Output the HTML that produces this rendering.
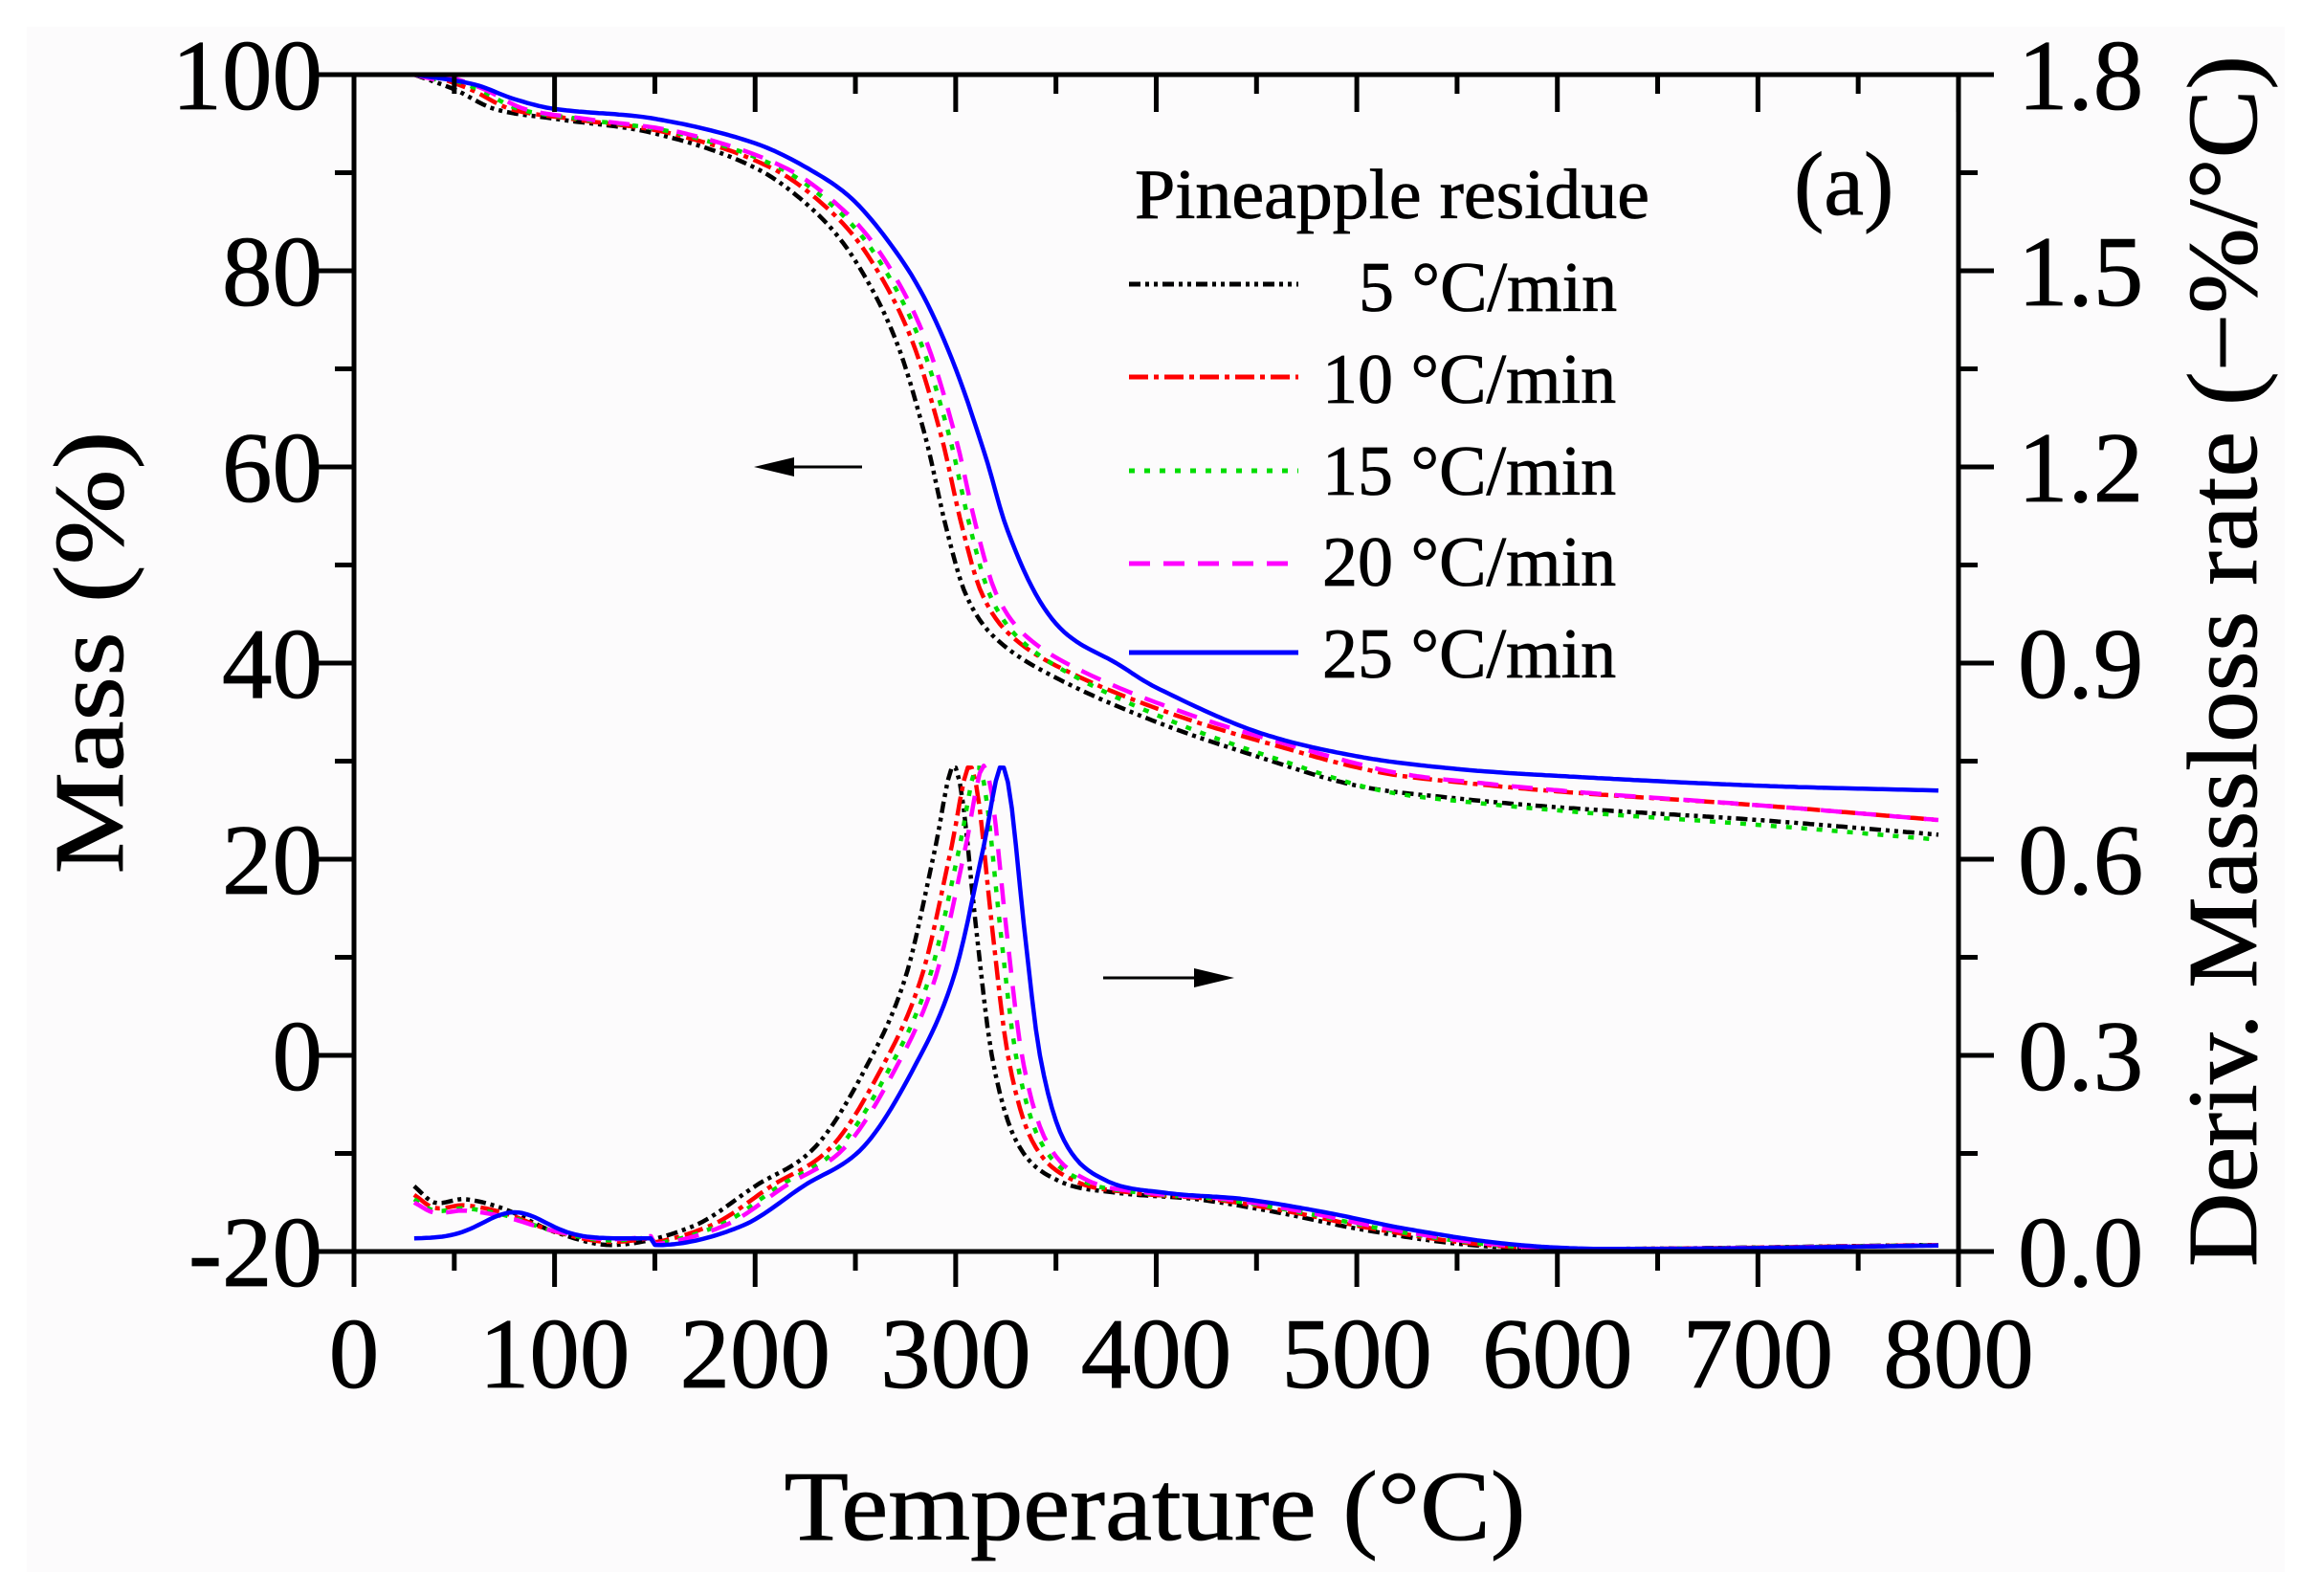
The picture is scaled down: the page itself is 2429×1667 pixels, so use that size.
<!DOCTYPE html>
<html><head><meta charset="utf-8"><style>
html,body{margin:0;padding:0;background:#fff;}
svg{display:block;}
text{font-family:"Liberation Serif",serif;fill:#000;stroke:#000;stroke-width:0.8;}
</style></head><body>
<svg id="s" width="2429" height="1667" viewBox="0 0 2429 1667" xmlns="http://www.w3.org/2000/svg">
<rect x="28" y="28" width="2360" height="1615" fill="#fcfbfc"/>
<g id="curves" fill="none" stroke-width="4.5" stroke-linejoin="round"></g>
<g stroke="#000" stroke-width="5" fill="none">
<rect x="370" y="78" width="1677" height="1230"/>
</g>
<g id="ticks" stroke="#000" stroke-width="5"></g>
<g id="labels" font-size="105"></g>
<text x="1207" y="1609" font-size="104" text-anchor="middle" textLength="775" lengthAdjust="spacingAndGlyphs">Temperature  (°C)</text>
<text transform="translate(128,682) rotate(-90)" font-size="104" text-anchor="middle" textLength="463" lengthAdjust="spacingAndGlyphs">Mass  (%)</text>
<text transform="translate(2358,691) rotate(-90)" font-size="104" text-anchor="middle" textLength="1266" lengthAdjust="spacingAndGlyphs">Deriv. Massloss rate  (−%/°C)</text>
<text x="1875" y="224" font-size="94">(a)</text>
<text x="1186" y="228" font-size="74" textLength="538" lengthAdjust="spacingAndGlyphs">Pineapple residue</text>
<g font-size="74">
<text x="1420" y="325">5 °C/min</text>
<text x="1382" y="421">10 °C/min</text>
<text x="1382" y="517">15 °C/min</text>
<text x="1382" y="612">20 °C/min</text>
<text x="1382" y="708">25 °C/min</text>
</g>
<g fill="none" stroke-width="5">
<line x1="1180" y1="297" x2="1357" y2="297" stroke="#000" stroke-dasharray="12,5,4,5,4,5"/>
<line x1="1180" y1="394" x2="1357" y2="394" stroke="#f00" stroke-dasharray="20,6,5,6"/>
<line x1="1180" y1="492" x2="1357" y2="492" stroke="#0d0" stroke-dasharray="6,10"/>
<line x1="1180" y1="589" x2="1357" y2="589" stroke="#f0f" stroke-dasharray="22,14"/>
<line x1="1180" y1="682" x2="1357" y2="682" stroke="#00f"/>
</g>
<g stroke="#000" stroke-width="3" fill="#000">
<line x1="901" y1="488" x2="810" y2="488"/>
<polygon points="788,488 830,478 830,498" stroke="none"/>
<line x1="1153" y1="1022" x2="1265" y2="1022"/>
<polygon points="1290,1022 1248,1012 1248,1032" stroke="none"/>
</g>
</svg>
<script>
(function(){
var NS="http://www.w3.org/2000/svg";
function X(t){return 370+t*2.09625;}
function YM(m){return 78+(100-m)*10.25;}
function YD(d){return 1308-d*683.33;}
function interp(a,t){
 if(t<=a[0][0])return a[0][1];
 for(var i=1;i<a.length;i++){if(t<=a[i][0]){var p=a[i-1],q=a[i];var u=(t-p[0])/(q[0]-p[0]);
   var pp=a[Math.max(0,i-2)],qq=a[Math.min(a.length-1,i+1)];
   var m0=(q[1]-pp[1])/(q[0]-pp[0])*(q[0]-p[0]),m1=(qq[1]-p[1])/(qq[0]-p[0])*(q[0]-p[0]);
   var u2=u*u,u3=u2*u;
   return (2*u3-3*u2+1)*p[1]+(u3-2*u2+u)*m0+(-2*u3+3*u2)*q[1]+(u3-u2)*m1;}}
 return a[a.length-1][1];
}
var mb=[[30,100],[50,98.5],[70,96.5],[100,95.5],[150,94],[200,90.5],[230,86],[250,81],[270,73],[285,63],[295,54],[305,47],[320,42.5],[350,38.5],[400,34],[450,30.5],[500,27.5],[550,26.2],[600,25.3],[700,24],[790,22.5]];
var mblue=[[30,100],[60,99],[80,97.5],[100,96.5],[150,95.5],[200,93],[230,90],[250,87],[270,82],[285,77],[300,70],[315,61],[325,54],[340,47],[355,43],[380,40],[400,37.5],[450,33],[500,30.5],[550,29.2],[600,28.5],[700,27.5],[790,27]];
var db=[[30,0.1],[40,0.075],[55,0.08],[75,0.065],[100,0.03],[130,0.01],[170,0.04],[200,0.1],[230,0.16],[255,0.28],[275,0.42],[290,0.62],[298,0.74],[303,0.7],[310,0.5],[318,0.3],[330,0.17],[350,0.11],[380,0.09],[420,0.08],[460,0.06],[500,0.035],[550,0.012],[600,0.004],[790,0.01]];
var S=[
 {c:"#000",d:"12,5,4,5,4,5",s:0,o:0},
 {c:"#f00",d:"20,6,5,6",s:8,o:1.5},
 {c:"#0d0",d:"6,10",s:12,o:-0.5},
 {c:"#f0f",d:"22,14",s:15,o:1.5},
 {c:"#00f",d:"",s:24,o:4.5,b:1}];
var g=document.getElementById("curves");
S.forEach(function(s){
 var p1="",p2="";
 for(var t=30;t<=790;t+=2){
  var w=t<300?0:(t>500?1:(t-300)/200);
  var m;
  if(s.b){m=interp(mblue,t);}
  else{m=interp(mb,Math.max(30,t-s.s*(t<600?1:Math.max(0,(700-t)/100))))+s.o*w;
   if(t-s.s<30)m=100-(t-30)*0.05;}
  var d=interp(db,t-s.s);
  if(s.s>0&&t<150){d=interp(db,t)*(1-s.s/40)+0.02*s.s/24;}
  if(s.b&&t<150){d=0.02+0.04*Math.exp(-Math.pow((t-80)/22,2));}
  d=Math.max(d,0.003);
  p1+=(t==30?"M":"L")+X(t).toFixed(1)+","+YM(m).toFixed(1);
  p2+=(t==30?"M":"L")+X(t).toFixed(1)+","+YD(d).toFixed(1);
 }
 [p1,p2].forEach(function(p){var e=document.createElementNS(NS,"path");e.setAttribute("d",p);e.setAttribute("stroke",s.c);if(s.d)e.setAttribute("stroke-dasharray",s.d);g.appendChild(e);});
});
var tk=document.getElementById("ticks"),lb=document.getElementById("labels");
function L(x1,y1,x2,y2){var e=document.createElementNS(NS,"line");e.setAttribute("x1",x1);e.setAttribute("y1",y1);e.setAttribute("x2",x2);e.setAttribute("y2",y2);tk.appendChild(e);}
function T(x,y,s,a){var e=document.createElementNS(NS,"text");e.setAttribute("x",x);e.setAttribute("y",y);e.setAttribute("text-anchor",a);e.textContent=s;lb.appendChild(e);}
for(var i=0;i<=16;i++){var x=370+i*104.81;var maj=i%2==0;
 L(x,1308,x,1308+(maj?37:20));L(x,78,x,78+(maj?39:20));
 if(maj)T(x,1450,String(i*50),"middle");}
for(var i=0;i<=12;i++){var y=78+i*102.5;var maj=i%2==0;
 L(370,y,370-(maj?37:20),y);L(2047,y,2047+(maj?37:20),y);
 if(maj){T(337,y+36,String(100-i*10),"end");T(2109,y+36,(1.8-i*0.15).toFixed(1),"start");}}
})();
</script>
</body></html>
